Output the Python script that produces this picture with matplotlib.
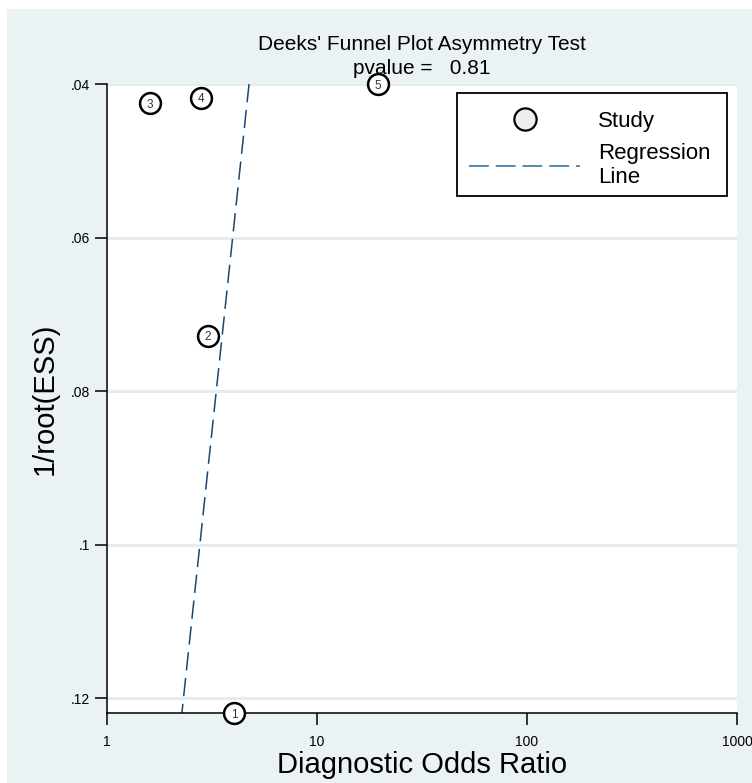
import matplotlib
matplotlib.use('Agg')
import matplotlib.pyplot as plt
from matplotlib.lines import Line2D
from matplotlib.patches import Rectangle
import numpy as np

plt.rcParams['font.family'] = ['Liberation Sans', 'DejaVu Sans']

# study data: diagnostic odds ratio and 1/sqrt(ESS)
study_id = ['1', '2', '3', '4', '5']
dor = [4.02, 3.03, 1.60, 2.80, 19.5]
inv_root_ess = [0.1219, 0.0728, 0.0425, 0.0418, 0.0400]

# regression line: ln(DOR) = a + b * (1/root(ESS))
reg_a = 1.917
reg_b = -8.99
pvalue = 0.81

x_ticks = [1, 10, 100, 1000]
x_tick_labels = ['1', '10', '100', '1000']
y_ticks = [0.04, 0.06, 0.08, 0.10, 0.12]
y_tick_labels = ['.04', '.06', '.08', '.1', '.12']

navy = '#1a476f'
bg = '#eaf2f3'

fig = plt.figure(figsize=(7.52, 7.83), dpi=100)
fig.patches.append(Rectangle((7 / 752, 0), 1, 774 / 783, transform=fig.transFigure,
                             facecolor=bg, edgecolor='none', zorder=-5))

ax = fig.add_axes([107 / 752, 70 / 783, 630 / 752, 629 / 783])
ax.set_facecolor('white')

ax.set_xscale('log')
ax.set_xlim(1, 1000)
ax.set_ylim(max(inv_root_ess), min(inv_root_ess))

# grid lines
for yt in y_ticks:
    ax.axhline(yt, color='#e3edef', lw=2.2, zorder=0)

# regression line
yy = np.array([min(inv_root_ess), max(inv_root_ess)])
xx = np.exp(reg_a + reg_b * yy)
ax.plot(xx, yy, color=navy, lw=1.1, dashes=(12, 5), zorder=2)

# study points
ax.plot(dor, inv_root_ess, 'o', ms=15, mfc='white', mec='black', mew=1.8,
        ls='none', clip_on=False, zorder=3)
for sid, xv, yv in zip(study_id, dor, inv_root_ess):
    ax.text(xv, yv, sid, ha='center', va='center_baseline', fontsize=8.5, color='#333333',
            clip_on=False, zorder=4)

ax.set_xticks(x_ticks)
ax.set_xticklabels(x_tick_labels)
ax.minorticks_off()
ax.set_yticks(y_ticks)
ax.set_yticklabels(y_tick_labels)
ax.tick_params(axis='both', labelsize=10, width=1.1, length=8.5, direction='out')
ax.tick_params(axis='x', pad=7)

for s in ['top', 'right']:
    ax.spines[s].set_visible(False)
for s in ['left', 'bottom']:
    ax.spines[s].set_linewidth(1.1)

ax.set_xlabel('Diagnostic Odds Ratio', fontsize=21, labelpad=2)
ax.set_ylabel('1/root(ESS)', fontsize=21, labelpad=9)

fig.text(422 / 752, 1 - 45 / 783, "Deeks' Funnel Plot Asymmetry Test", ha='center', va='center',
         fontsize=15)
fig.text(422 / 752, 1 - 68 / 783, 'pvalue =   %.2f' % pvalue, ha='center', va='center',
         fontsize=15)

# legend: box drawn separately so the padding matches
ax.add_patch(Rectangle((0.5556, 0.8219), 0.4286, 0.1638, transform=ax.transAxes,
                       facecolor='white', edgecolor='black', lw=1.3, clip_on=False, zorder=5))
handles = [Line2D([], [], marker='o', ms=16, mfc='#eeeeee', mec='black', mew=1.6, ls='none'),
           Line2D([], [], color='#2a6a9a', lw=1.1, dashes=(13, 4.5))]
leg = ax.legend(handles, ['Study', 'Regression\nLine'], loc='upper left',
                bbox_to_anchor=(0.5746, 0.957), borderaxespad=0, borderpad=0, fontsize=16,
                handlelength=5.0, handletextpad=0.8, labelspacing=0.5, frameon=False)
leg.set_zorder(6)

fig.savefig('out.png', dpi=100)
